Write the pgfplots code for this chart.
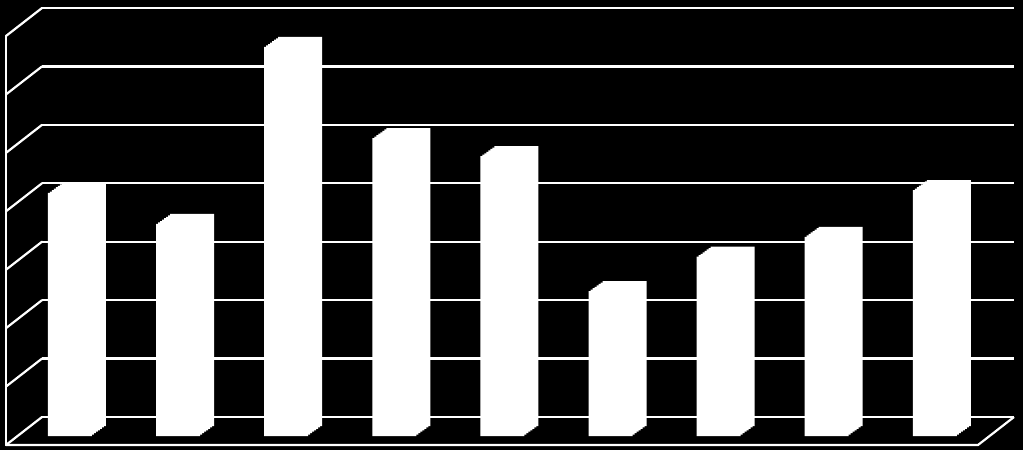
\documentclass[border=0pt]{standalone}
\usepackage{pgfplots}
\pgfplotsset{compat=1.18}
\usepackage{pgfplotstable}
\usetikzlibrary{calc}

% bar heights, read off the back faces (grid step = 10)
\pgfplotstableread{
x v
1 41.6
2 36.3
3 66.6
4 51.0
5 47.9
6 24.8
7 30.7
8 34.1
9 42.1
}\bardata

\begin{document}
\begin{tikzpicture}[x=1pt,y=1pt]
\fill[black] (0,0) rectangle (1023,450);
\begin{axis}[
    at={(42pt,33pt)}, anchor=south west,
    scale only axis, width=972pt, height=409pt,
    xmin=0.6115, xmax=9.6031,
    ymin=0, ymax=70,
    ytick={0,10,...,70}, yticklabels={},
    xtick=\empty,
    ymajorgrids,
    grid style={white, line width=2.2pt},
    axis line style={draw=none},
    major tick length=0pt,
    ybar, bar width=44pt, bar shift=0pt,
    clip=false,
]
% front-to-back copies give the depth of each column
\pgfplotsinvokeforeach{0,1,...,7}{
    \addplot[fill=white, draw=none, xshift={-2pt*#1}, yshift={-9pt-10pt*#1/7}]
        table[x=x, y=v] {\bardata};
}
% side wall and floor
\pgfplotsinvokeforeach{0,10,...,70}{
    \draw[white, line width=2.2pt, line cap=round] (axis cs:0.6115,#1) -- ++(-36pt,-28pt);
}
\draw[white, line width=2.2pt, line cap=round]
    (axis cs:0.6115,70) ++(-36pt,-28pt) -- ++(0pt,-409pt);
\draw[white, line width=2.2pt, line join=round]
    (axis cs:0.6115,0) ++(-36pt,-28pt) -- ($(axis cs:9.6031,0)+(-36pt,-28pt)$) -- (axis cs:9.6031,0);
\end{axis}
\pgfresetboundingbox
\path (0,0) rectangle (1023,450);
\end{tikzpicture}
\end{document}
